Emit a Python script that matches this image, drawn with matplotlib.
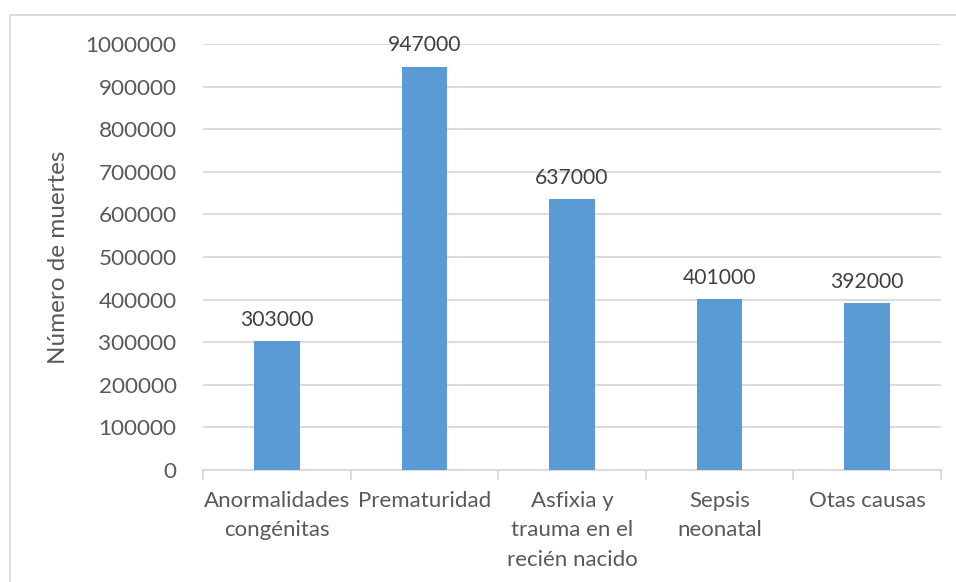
import matplotlib
matplotlib.use("Agg")
import matplotlib.pyplot as plt
from matplotlib.patches import Rectangle
import numpy as np

plt.rcParams['font.family'] = ['Lato', 'DejaVu Sans']

categories = ["Anormalidades\ncongénitas", "Prematuridad", "Asfixia y\ntrauma en el\nrecién nacido",
              "Sepsis\nneonatal", "Otas causas"]
deaths = [303000, 947000, 637000, 401000, 392000]
y_ticks = [0, 100000, 200000, 300000, 400000, 500000, 600000, 700000, 800000, 900000, 1000000]

W, H = 956, 582
fig = plt.figure(figsize=(W / 100, H / 100), dpi=100)
fig.patch.set_facecolor("white")
fig.patches.append(Rectangle((10 / W, -0.1), 1.2, 1 - 15 / H + 0.1, transform=fig.transFigure,
                             fill=False, edgecolor="#d9d9d9", linewidth=1.3))

ax = fig.add_axes([203 / W, 1 - 470 / H, (941 - 203) / W, (470 - 44) / H])
text_color = "#595959"
grid_color = "#d9d9d9"

x = np.arange(len(categories))
bars = ax.bar(x, deaths, width=0.31, color="#5b9bd5", zorder=3)
for xi, v in zip(x, deaths):
    ax.annotate(f"{v}", (xi, v), xytext=(0, 8), textcoords="offset points",
                ha="center", va="bottom", fontsize=15.2, color="#404040")

ax.set_xlim(-0.5, len(categories) - 0.5)
ax.set_ylim(0, 1000000)
ax.set_yticks(y_ticks)
ax.set_yticklabels([str(t) for t in y_ticks], fontsize=16.2, color=text_color)
ax.tick_params(axis="y", length=0, pad=19)
ax.yaxis.grid(True, color=grid_color, linewidth=1.3, zorder=0)

ax.set_xticks(x)
ax.set_xticklabels(categories, fontsize=16, color=text_color, linespacing=1.6, va="top")
ax.tick_params(axis="x", which="major", length=0, pad=15)
ax.set_xticks(np.arange(-0.5, len(categories)), minor=True)
ax.tick_params(axis="x", which="minor", length=7, color=grid_color, width=1.3)

for s in ["top", "right", "left"]:
    ax.spines[s].set_visible(False)
ax.spines["bottom"].set_color(grid_color)
ax.spines["bottom"].set_linewidth(1.3)

ax.set_ylabel("Número de muertes", fontsize=17.5, color=text_color, labelpad=12)

fig.savefig("out.png", dpi=100)
